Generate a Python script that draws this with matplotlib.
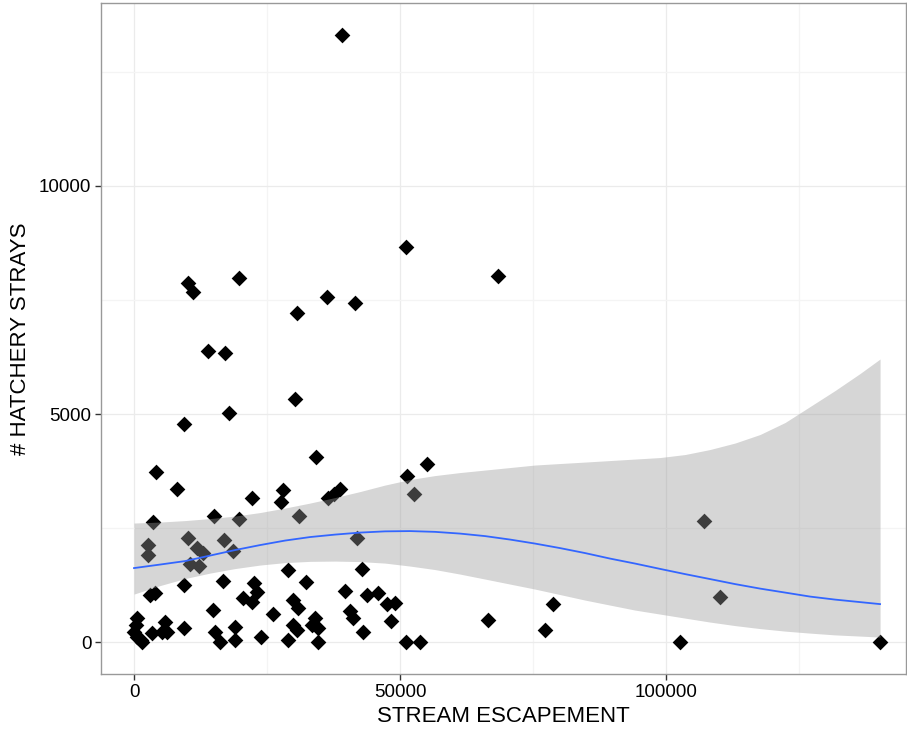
import matplotlib
matplotlib.use("Agg")
import matplotlib.pyplot as plt

plt.rcParams["font.family"] = ["Liberation Sans", "DejaVu Sans"]

# stream escapement (x) and hatchery strays (y)
escapement = [
    39100, 51130, 68420, 19740, 10150, 11090, 36280, 41540, 30640, 13910,
    17110, 30260, 17860, 9400, 34210, 55080, 51320, 4140, 8080, 38720,
    37590, 36470, 52630, 22180, 28010, 27630, 3570, 15040, 19740, 31020,
    41920, 2630, 2630, 10150, 11840, 12970, 10530, 12220, 16920, 18610,
    3010, 3950, 9400, 16730, 28950, 32330, 42860, 22560, 23120, 20490,
    22180, 26130, 29890, 30830, 34020, 33460, 34590, 29890, 30640, 28950,
    23870, 34590, 39660, 40600, 41170, 43050, 43800, 45860, 47560, 49060,
    48310, 51130, 53760, 66540, 78760, 77250, 102630, 107140, 110150, 140230,
    560, 380, 0, 560, 1500, 1320, 3380, 5830, 6200, 5260,
    9400, 14850, 15230, 16170, 18990, 18990,
]
strays = [
    13310, 8660, 8030, 7980, 7870, 7680, 7570, 7430, 7210, 6380,
    6340, 5330, 5020, 4780, 4060, 3900, 3640, 3730, 3360, 3360,
    3250, 3160, 3250, 3160, 3330, 3070, 2630, 2760, 2700, 2760,
    2280, 2130, 1910, 2280, 2060, 1950, 1710, 1670, 2240, 2000,
    1030, 1070, 1250, 1340, 1580, 1320, 1600, 1290, 1100, 965,
    880, 610, 920, 750, 530, 370, 310, 370, 260, 40,
    110, 0, 1120, 680, 530, 220, 1030, 1070, 830, 860,
    460, 0, 0, 480, 830, 260, 0, 2650, 990, 0,
    530, 370, 220, 110, 0, 40, 200, 440, 220, 220,
    310, 700, 220, 0, 330, 40,
]

# smoother (fit and confidence band)
smooth_x = [0, 4887, 9586, 14286, 18985, 23684, 28383, 33083, 37782, 42481,
            47180, 51880, 56579, 61278, 65977, 70677, 75376, 80075, 84774,
            89474, 94173, 98872, 103571, 108271, 112970, 117669, 122368,
            127068, 131767, 136466, 140226]
smooth_fit = [1623, 1700, 1776, 1897, 2018, 2127, 2226, 2303, 2357, 2401,
              2428, 2434, 2417, 2379, 2324, 2248, 2160, 2061, 1952, 1831,
              1722, 1605, 1491, 1382, 1272, 1173, 1086, 998, 932, 877, 833]
smooth_lo = [1053, 1239, 1393, 1513, 1612, 1689, 1743, 1770, 1776, 1765,
             1732, 1667, 1590, 1491, 1382, 1272, 1162, 1042, 921, 811,
             702, 614, 526, 439, 362, 296, 241, 197, 158, 132, 110]
smooth_hi = [2610, 2632, 2664, 2708, 2763, 2840, 2939, 3048, 3169, 3300,
             3443, 3564, 3651, 3717, 3772, 3827, 3882, 3915, 3947, 3980,
             4013, 4046, 4112, 4222, 4364, 4551, 4814, 5164, 5515, 5888, 6206]

fig = plt.figure(figsize=(9.07, 7.29), dpi=100)
ax = fig.add_axes([0.1114, 0.0754, 0.8875, 0.9204])

ax.scatter(escapement, strays, marker="D", s=64, color="black",
           linewidths=0, zorder=2)
ax.fill_between(smooth_x, smooth_lo, smooth_hi, color="#999999", alpha=0.4,
                linewidth=0, zorder=3)
ax.plot(smooth_x, smooth_fit, color="#3366FF", lw=1.3, zorder=4)

ax.set_xlim(-6200, 145100)
ax.set_ylim(-700, 14010)
ax.set_xticks([0, 50000, 100000])
ax.set_xticks([25000, 75000, 125000], minor=True)
ax.set_yticks([0, 5000, 10000])
ax.set_yticks([2500, 7500, 12500], minor=True)
ax.grid(which="major", color="#EBEBEB", lw=0.9, zorder=0)
ax.grid(which="minor", color="#F4F4F4", lw=0.9, zorder=0)
ax.set_axisbelow(True)

ax.tick_params(which="major", length=4, width=1, color="#333333",
               labelsize=13.5, pad=3)
ax.tick_params(which="minor", length=0)
for s in ax.spines.values():
    s.set_color("#999999")
    s.set_linewidth(1)

ax.set_xlabel("STREAM ESCAPEMENT", fontsize=16, labelpad=4)
ax.set_ylabel("# HATCHERY STRAYS", fontsize=16, labelpad=6)

fig.savefig("out.png", dpi=100)
